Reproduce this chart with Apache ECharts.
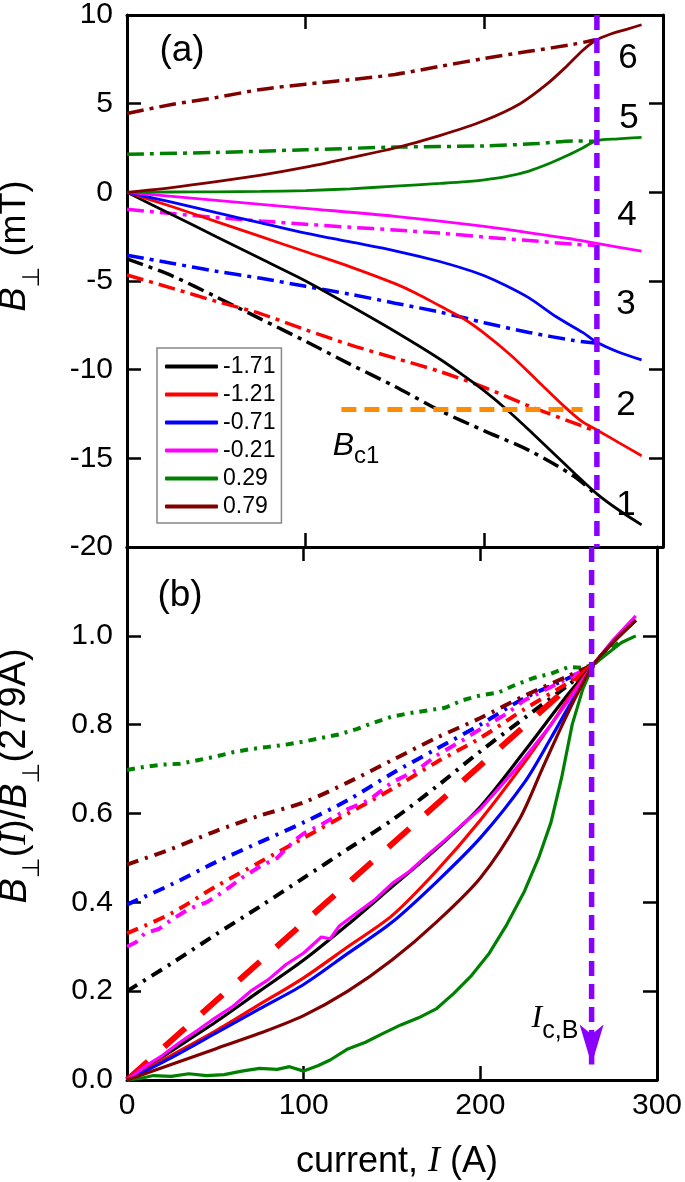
<!DOCTYPE html>
<html><head><meta charset="utf-8">
<script src="https://cdn.jsdelivr.net/npm/echarts@6/dist/echarts.min.js"></script>
<style>html,body{margin:0;padding:0;background:#fff}#c{width:685px;height:1182px}</style>
</head><body><div id="c"></div>
<script>
// ---------- data (current I in A, value) ----------
const xTicks = [0, 100, 200, 300];
const legendNames = ['-1.71', '-1.21', '-0.71', '-0.21', '0.29', '0.79'];
const colors = ['#000000', '#ff0000', '#0000ff', '#ff00ff', '#008000', '#800000'];
const panelNumbers = ['1', '2', '3', '4', '5', '6'];

// Panel (a): B_perp (mT), solid lines
const a1 = [[0,0],[25,-1.25],[50,-2.5],[75,-3.75],[100,-5.0],[125,-6.4],[150,-7.85],[175,-9.4],[190,-10.45],[200,-11.2],[212,-12.2],[225,-13.4],[250,-15.8],[263,-17.0],[275,-17.9],[288,-18.75]];
const a2 = [[0,0],[25,-0.8],[50,-1.65],[75,-2.5],[100,-3.35],[125,-4.2],[150,-5.15],[162,-5.7],[175,-6.4],[188,-7.1],[200,-7.95],[215,-9.2],[230,-10.65],[245,-12.1],[255,-12.95],[263,-13.4],[275,-14.1],[288,-14.85]];
const a3 = [[0,0],[25,-0.55],[50,-1.15],[75,-1.72],[100,-2.3],[125,-2.8],[150,-3.3],[175,-3.9],[190,-4.35],[200,-4.7],[212,-5.25],[225,-5.95],[240,-7.0],[255,-7.9],[263,-8.45],[275,-9.0],[288,-9.45]];
const a4 = [[0,0],[50,-0.45],[100,-0.9],[150,-1.35],[200,-1.92],[250,-2.65],[263,-2.88],[288,-3.32]];
const a5 = [[0,0],[25,0.02],[50,0.03],[75,0.05],[100,0.1],[125,0.2],[150,0.35],[175,0.5],[190,0.6],[200,0.7],[212,0.88],[225,1.2],[237,1.65],[247,2.1],[255,2.5],[263,2.92],[275,3.02],[288,3.1]];
const a6 = [[0,0],[25,0.27],[50,0.6],[75,0.97],[100,1.42],[125,1.95],[150,2.5],[175,3.2],[200,4.05],[220,5.0],[235,6.1],[246,7.1],[255,8.0],[262,8.55],[270,8.9],[280,9.2],[288,9.45]];
// Panel (a): dash-dot lines
const a1d = [[0,-3.75],[25,-4.7],[50,-5.9],[75,-7.15],[100,-8.4],[125,-9.7],[150,-10.95],[175,-12.3],[200,-13.45],[225,-14.55],[250,-16.0],[262,-17.0]];
const a2d = [[0,-4.66],[25,-5.4],[50,-6.15],[75,-6.85],[100,-7.75],[125,-8.6],[150,-9.35],[175,-10.1],[200,-11.0],[225,-12.05],[250,-13.0],[262,-13.45]];
const a3d = [[0,-3.55],[25,-4.0],[50,-4.45],[75,-4.85],[100,-5.3],[125,-5.75],[150,-6.25],[175,-6.75],[200,-7.35],[225,-7.9],[250,-8.35],[262,-8.5]];
const a4d = [[0,-0.95],[25,-1.2],[50,-1.42],[75,-1.62],[100,-1.8],[125,-1.97],[150,-2.12],[175,-2.3],[200,-2.52],[225,-2.72],[250,-2.92],[262,-3.0]];
const a5d = [[0,2.15],[50,2.25],[100,2.4],[150,2.55],[200,2.62],[230,2.75],[250,2.9],[262,2.88]];
const a6d = [[0,4.45],[25,4.95],[50,5.35],[75,5.8],[100,6.1],[125,6.35],[150,6.65],[175,7.1],[200,7.55],[225,7.95],[250,8.35],[262,8.6]];
const bc1 = [[120,-12.25],[255,-12.25]];
const icbA = [[263,10],[263,-20]];

// Panel (b): normalised B_perp(I)/B_perp(279A), solid
const b1 = [[0,0],[25,0.065],[50,0.13],[75,0.2],[100,0.27],[125,0.35],[150,0.435],[175,0.52],[200,0.615],[225,0.74],[250,0.87],[264,0.935],[275,0.985],[288,1.035]];
const b2 = [[0,0],[25,0.055],[50,0.11],[75,0.17],[100,0.23],[125,0.3],[150,0.37],[175,0.47],[200,0.585],[225,0.715],[240,0.8],[250,0.86],[264,0.935],[275,0.985],[288,1.035]];
const b3 = [[0,0],[25,0.05],[50,0.105],[75,0.16],[100,0.215],[125,0.285],[150,0.355],[175,0.445],[200,0.545],[225,0.67],[240,0.77],[250,0.84],[264,0.935],[275,0.985],[288,1.035]];
const b4 = [[0,0],[10,0.03],[20,0.055],[30,0.085],[40,0.112],[50,0.14],[60,0.166],[70,0.2],[80,0.226],[90,0.26],[100,0.286],[110,0.322],[115,0.318],[120,0.346],[130,0.376],[140,0.405],[150,0.442],[160,0.47],[170,0.506],[180,0.54],[190,0.576],[200,0.61],[210,0.655],[220,0.7],[230,0.75],[240,0.8],[250,0.855],[257,0.895],[264,0.935],[275,0.99],[288,1.045]];
const b5 = [[0,0],[8,0.004],[15,0.01],[25,0.008],[35,0.014],[45,0.01],[55,0.012],[65,0.02],[75,0.026],[85,0.024],[92,0.03],[100,0.02],[108,0.032],[115,0.045],[125,0.07],[135,0.085],[145,0.105],[155,0.124],[165,0.14],[175,0.16],[185,0.195],[195,0.235],[205,0.285],[215,0.35],[225,0.425],[233,0.5],[240,0.58],[246,0.68],[252,0.8],[258,0.88],[264,0.935],[272,0.96],[280,0.985],[288,1.0]];
const b6 = [[0,0],[25,0.035],[50,0.07],[75,0.105],[100,0.145],[125,0.2],[150,0.27],[175,0.355],[200,0.455],[222,0.586],[235,0.7],[246,0.796],[255,0.87],[264,0.935],[275,0.985],[288,1.035]];
// Panel (b): dash-dot
const b1d = [[0,0.2],[25,0.262],[50,0.327],[75,0.39],[100,0.455],[125,0.52],[150,0.585],[175,0.66],[200,0.74],[225,0.815],[250,0.89],[264,0.935]];
const b2d = [[0,0.33],[25,0.375],[50,0.435],[75,0.49],[100,0.545],[125,0.6],[150,0.655],[175,0.715],[200,0.77],[225,0.835],[250,0.895],[264,0.935]];
const b3d = [[0,0.395],[25,0.44],[50,0.49],[75,0.535],[100,0.58],[125,0.63],[150,0.69],[175,0.745],[200,0.8],[225,0.86],[250,0.905],[264,0.935]];
const b4d = [[0,0.3],[5,0.31],[10,0.33],[18,0.34],[25,0.36],[35,0.385],[45,0.4],[55,0.425],[65,0.455],[75,0.48],[85,0.5],[95,0.54],[100,0.555],[110,0.575],[125,0.61],[137,0.63],[150,0.67],[165,0.7],[175,0.73],[190,0.765],[200,0.79],[215,0.825],[225,0.855],[240,0.885],[250,0.905],[264,0.935]];
const b5d = [[0,0.698],[10,0.705],[20,0.71],[30,0.712],[40,0.72],[50,0.728],[60,0.738],[70,0.745],[80,0.75],[90,0.755],[100,0.762],[110,0.77],[120,0.778],[130,0.79],[140,0.805],[150,0.818],[160,0.826],[170,0.832],[180,0.838],[190,0.855],[200,0.866],[210,0.872],[220,0.89],[230,0.905],[240,0.915],[250,0.93],[258,0.928],[264,0.935],[272,0.965],[280,0.99]];
const b6d = [[0,0.485],[25,0.52],[50,0.56],[75,0.595],[100,0.625],[125,0.67],[150,0.72],[175,0.77],[200,0.815],[225,0.865],[250,0.91],[264,0.935]];
const bRef = [[0,0],[264,0.935]];
const icbB = [[263,1.2],[263,0.035]];

// ---------- chart ----------
const FONT = "'Liberation Sans', Arial, Helvetica, 'DejaVu Sans', sans-serif";
const SERIF = "'Liberation Serif', 'Times New Roman', serif";
const chart = echarts.init(document.getElementById('c'), null, {renderer: 'canvas'});

const tick = {show: true, inside: true, length: 14, lineStyle: {color: '#000', width: 2.5}};
const axLine = {show: true, onZero: false, lineStyle: {color: '#000', width: 3}};
function xAx(grid, pos, labels) {
  return {type: 'value', gridIndex: grid, position: pos, min: 0, max: 300, interval: 100,
    axisLine: axLine, axisTick: tick, splitLine: {show: false},
    axisLabel: labels ? {show: true, fontSize: 30, fontFamily: FONT, color: '#000', margin: 11} : {show: false}};
}
function yAx(grid, pos, min, max, step, fmt) {
  return {type: 'value', gridIndex: grid, position: pos, min: min, max: max, interval: step,
    axisLine: axLine, axisTick: tick, splitLine: {show: false},
    axisLabel: fmt ? {show: true, fontSize: 30, fontFamily: FONT, color: '#000', margin: 14, formatter: fmt} : {show: false}};
}
const solidA = [a1, a2, a3, a4, a5, a6];
const dashA = [a1d, a2d, a3d, a4d, a5d, a6d];
const solidB = [b1, b2, b3, b4, b5, b6];
const dashB = [b1d, b2d, b3d, b4d, b5d, b6d];
const series = [];
function line(name, data, color, ax, width, type, z, smooth) {
  return {type: 'line', name: name, data: data, xAxisIndex: ax, yAxisIndex: ax,
    color: color, showSymbol: false, symbol: 'none', smooth: smooth || false,
    lineStyle: {color: color, width: width, type: type, cap: 'butt'}, z: z || 2, silent: true};
}
for (let k = 0; k < 6; k++) series.push(line(legendNames[k] + ' dd', dashA[k], colors[k], 0, 3.5, [17, 6, 4, 6], 2, 0.3));
for (let k = 0; k < 6; k++) series.push(line(legendNames[k], solidA[k], colors[k], 0, 2.8, 'solid', 3, 0.3));
series.push(line('Bc1', bc1, '#ff8c00', 0, 5, [15, 8], 4));
for (let k = 0; k < 6; k++) series.push(line(legendNames[k] + ' ddb', dashB[k], colors[k], 2, 4, k === 4 ? [8, 6, 3, 6] : [12, 7, 3, 7], 2, (k === 3 || k === 4) ? false : 0.3));
series.push(line('ref', bRef, '#ff0000', 2, 6, [28, 22], 3));
for (let k = 0; k < 6; k++) series.push(line(legendNames[k], solidB[k], colors[k], 2, 3.2, 'solid', 3, (k === 3 || k === 4) ? false : 0.3));
const purple = '#8a00ff';
series.push(line('IcB a', icbA, purple, 0, 5.5, [15, 8], 6));
const arrowSeries = line('IcB b', [icbB[0], {value: icbB[1], symbol: 'arrow', symbolSize: [18, 40], symbolRotate: 180}], purple, 2, 5.5, [15, 8], 6);
arrowSeries.showSymbol = true;
arrowSeries.symbol = 'none';
arrowSeries.itemStyle = {color: purple};
series.push(arrowSeries);

// helpers for text
const measCtx = document.createElement('canvas').getContext('2d');
function fam(p) { return p.serif ? SERIF : FONT; }
function pieceText(pieces, cx, cy, rot) {
  const widths = pieces.map(p => { measCtx.font = (p.it ? 'italic ' : '') + p.size + 'px ' + fam(p); return measCtx.measureText(p.t).width; });
  const total = widths.reduce((s, w) => s + w, 0);
  let cur = -total / 2;
  const children = pieces.map((p, i) => {
    const el = {type: 'text', x: cur, y: p.dy || 0, silent: true,
      style: {text: p.t, fontSize: p.size, fontStyle: p.it ? 'italic' : 'normal', fontFamily: fam(p), fill: '#000', align: 'left', verticalAlign: 'middle'}};
    cur += widths[i];
    return el;
  });
  return {type: 'group', x: cx, y: cy, rotation: rot || 0, silent: true, z: 50, children: children};
}
function txt(x, y, text, size, align) {
  return {type: 'text', x: x, y: y, silent: true, z: 50,
    style: {text: text, fontSize: size, fontFamily: FONT, fill: '#000', align: align || 'center', verticalAlign: 'middle'}};
}
const numPos = [[626, 505], [626, 405], [626, 304], [627, 215], [629, 118], [628, 58]];
const graphics = [];
graphics.push(txt(182, 51, '(a)', 37));
graphics.push(txt(180, 596, '(b)', 37));
for (let k = 0; k < 6; k++) graphics.push(txt(numPos[k][0], numPos[k][1], panelNumbers[k], 35));
graphics.push(pieceText([{t: 'B', size: 32, it: true}, {t: 'c1', size: 24, dy: 10}], 356, 446, 0));
graphics.push(pieceText([{t: 'I', size: 32, it: true, serif: true}, {t: 'c,B', size: 25, dy: 12}], 555, 1019, 0));
graphics.push(pieceText([{t: 'B', size: 36, it: true}, {t: '⊥', size: 24, dy: 17}, {t: ' (mT)', size: 36}], 15, 246, Math.PI / 2));
graphics.push(pieceText([{t: 'B', size: 38, it: true}, {t: '⊥', size: 24, dy: 17}, {t: '(', size: 38}, {t: 'I', size: 38, it: true, serif: true},
  {t: ')/', size: 38}, {t: 'B', size: 38, it: true}, {t: '⊥', size: 24, dy: 17}, {t: '(279A)', size: 38}], 15, 776, Math.PI / 2));
graphics.push(pieceText([{t: 'current, ', size: 36}, {t: 'I', size: 36, it: true, serif: true}, {t: ' (A)', size: 36}], 397, 1162, 0));

chart.setOption({
  animation: false,
  backgroundColor: '#fff',
  grid: [
    {left: 127, top: 12, width: 536, height: 535},
    {left: 127, top: 547, width: 536, height: 533}
  ],
  xAxis: [xAx(0, 'bottom', false), xAx(0, 'top', false), xAx(1, 'bottom', true), xAx(1, 'top', false)],
  yAxis: [
    yAx(0, 'left', -20, 10, 5, v => String(v)),
    yAx(0, 'right', -20, 10, 5, null),
    yAx(1, 'left', 0, 1.2, 0.2, v => (v > 1.1 ? '' : v.toFixed(1))),
    yAx(1, 'right', 0, 1.2, 0.2, null)
  ],
  legend: {orient: 'vertical', left: 157, top: 348, data: legendNames, icon: 'roundRect',
    itemWidth: 53, itemHeight: 4, itemGap: 5, selectedMode: false,
    textStyle: {fontSize: 23, fontFamily: FONT, color: '#000', lineHeight: 23},
    borderColor: '#888', borderWidth: 1.5, backgroundColor: '#fff', padding: [7, 6, 5, 8]},
  series: series,
  graphic: graphics
});
</script></body></html>
